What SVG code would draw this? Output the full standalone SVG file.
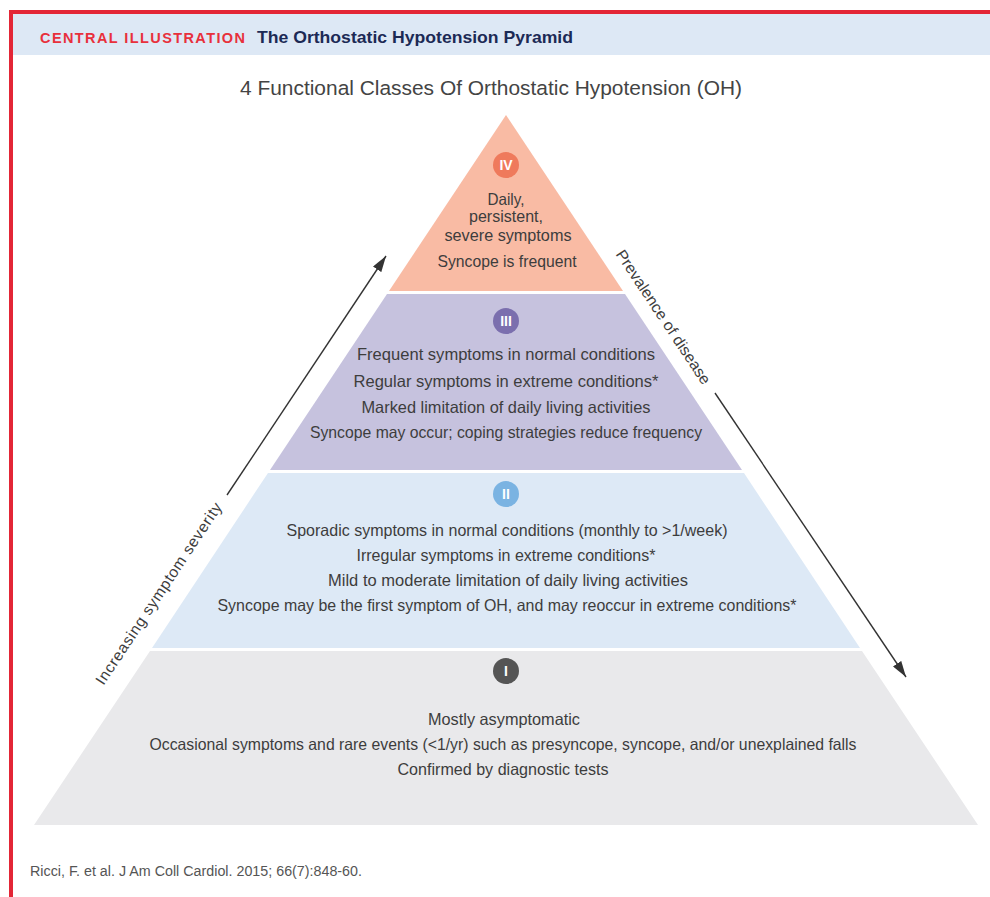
<svg xmlns="http://www.w3.org/2000/svg" width="990" height="897" viewBox="0 0 990 897">
<defs>
<style>
.t{font-family:"Liberation Sans",Arial,sans-serif;font-size:16.5px;fill:#3d3d3d;text-anchor:middle}
.num{font-family:"Liberation Sans",Arial,sans-serif;font-size:14px;font-weight:bold;fill:#fff;text-anchor:middle}
.lab{font-family:"Liberation Sans",Arial,sans-serif;font-size:15.5px;fill:#3d3d3d;text-anchor:middle}
.arr{stroke:#333;stroke-width:1.4;fill:none}
</style>
<marker id="ah" markerUnits="userSpaceOnUse" viewBox="0 0 16 10" markerWidth="16" markerHeight="10" refX="16" refY="5" orient="auto">
<path d="M0,0 L16,5 L0,10 Z" fill="#333"/>
</marker>
</defs>
<rect x="0" y="0" width="990" height="897" fill="#fff"/>
<g id="header">
<rect x="13" y="14" width="977" height="41" fill="#dde8f5"/>
<rect x="9" y="10" width="981" height="4" fill="#e32636"/>
<rect x="9" y="10" width="4" height="887" fill="#e32636"/>
<text x="40" y="43" font-family="'Liberation Sans',Arial,sans-serif" font-size="14.5" font-weight="bold" fill="#e8303c" textLength="205" lengthAdjust="spacing">CENTRAL ILLUSTRATION</text>
<text x="257" y="43" font-family="'Liberation Sans',Arial,sans-serif" font-size="17" font-weight="bold" fill="#1c2a55" textLength="316" lengthAdjust="spacingAndGlyphs">The Orthostatic Hypotension Pyramid</text>
</g>
<text x="491" y="95" font-family="'Liberation Sans',Arial,sans-serif" font-size="20.5" fill="#444" text-anchor="middle" textLength="502" lengthAdjust="spacingAndGlyphs">4 Functional Classes Of Orthostatic Hypotension (OH)</text>

<g id="tier-iv">
<polygon points="506,115 623,291 389,291" fill="#f9bba4"/>
<circle cx="506" cy="165" r="13" fill="#ef7a5c"/>
<text class="num" x="506" y="170">IV</text>
<text class="t" x="506" y="205" textLength="37" lengthAdjust="spacingAndGlyphs">Daily,</text>
<text class="t" x="506" y="222" textLength="74" lengthAdjust="spacingAndGlyphs">persistent,</text>
<text class="t" x="508" y="241" textLength="127" lengthAdjust="spacingAndGlyphs">severe symptoms</text>
<text class="t" x="507" y="267" textLength="139" lengthAdjust="spacingAndGlyphs">Syncope is frequent</text>
</g>

<g id="tier-iii">
<polygon points="387,294 625,294 742,470 270,470" fill="#c6c2de"/>
<circle cx="506" cy="321" r="13" fill="#7b6fae"/>
<text class="num" x="506" y="326">III</text>
<text class="t" x="506" y="360" textLength="298" lengthAdjust="spacingAndGlyphs">Frequent symptoms in normal conditions</text>
<text class="t" x="506" y="387" textLength="305" lengthAdjust="spacingAndGlyphs">Regular symptoms in extreme conditions*</text>
<text class="t" x="506" y="413" textLength="289" lengthAdjust="spacingAndGlyphs">Marked limitation of daily living activities</text>
<text class="t" x="506" y="438" textLength="392" lengthAdjust="spacingAndGlyphs">Syncope may occur; coping strategies reduce frequency</text>
</g>

<g id="tier-ii">
<polygon points="268,473 744,473 860,648 152,648" fill="#dde9f6"/>
<circle cx="506" cy="494" r="13" fill="#7ab3e2"/>
<text class="num" x="506" y="499">II</text>
<text class="t" x="507" y="536" textLength="441" lengthAdjust="spacingAndGlyphs">Sporadic symptoms in normal conditions (monthly to &gt;1/week)</text>
<text class="t" x="506" y="561" textLength="299" lengthAdjust="spacingAndGlyphs">Irregular symptoms in extreme conditions*</text>
<text class="t" x="508" y="586" textLength="360" lengthAdjust="spacingAndGlyphs">Mild to moderate limitation of daily living activities</text>
<text class="t" x="507" y="611" textLength="579" lengthAdjust="spacingAndGlyphs">Syncope may be the first symptom of OH, and may reoccur in extreme conditions*</text>
</g>

<g id="tier-i">
<polygon points="150,651 862,651 978,825 34,825" fill="#e9e9eb"/>
<circle cx="506" cy="671" r="13" fill="#555"/>
<text class="num" x="506" y="676">I</text>
<text class="t" x="504" y="725" textLength="152" lengthAdjust="spacingAndGlyphs">Mostly asymptomatic</text>
<text class="t" x="503" y="750" textLength="707" lengthAdjust="spacingAndGlyphs">Occasional symptoms and rare events (&lt;1/yr)  such as presyncope, syncope, and/or unexplained falls</text>
<text class="t" x="503" y="775" textLength="211" lengthAdjust="spacingAndGlyphs">Confirmed by diagnostic tests</text>
</g>

<g id="connectors">
<path class="arr" d="M227,495 L386,256" marker-end="url(#ah)"/>
<path class="arr" d="M715,393 L906,677" marker-end="url(#ah)"/>
</g>
<g id="axis-labels">
<text class="lab" transform="translate(163,596.5) rotate(-56.4)" textLength="215">Increasing symptom severity</text>
<text class="lab" transform="translate(659,320) rotate(56.4)" textLength="158" lengthAdjust="spacingAndGlyphs">Prevalence of disease</text>
</g>

<text x="30" y="876" font-family="'Liberation Sans',Arial,sans-serif" font-size="14" fill="#555" textLength="332" lengthAdjust="spacingAndGlyphs">Ricci, F. et al. J Am Coll Cardiol. 2015; 66(7):848-60.</text>
</svg>
